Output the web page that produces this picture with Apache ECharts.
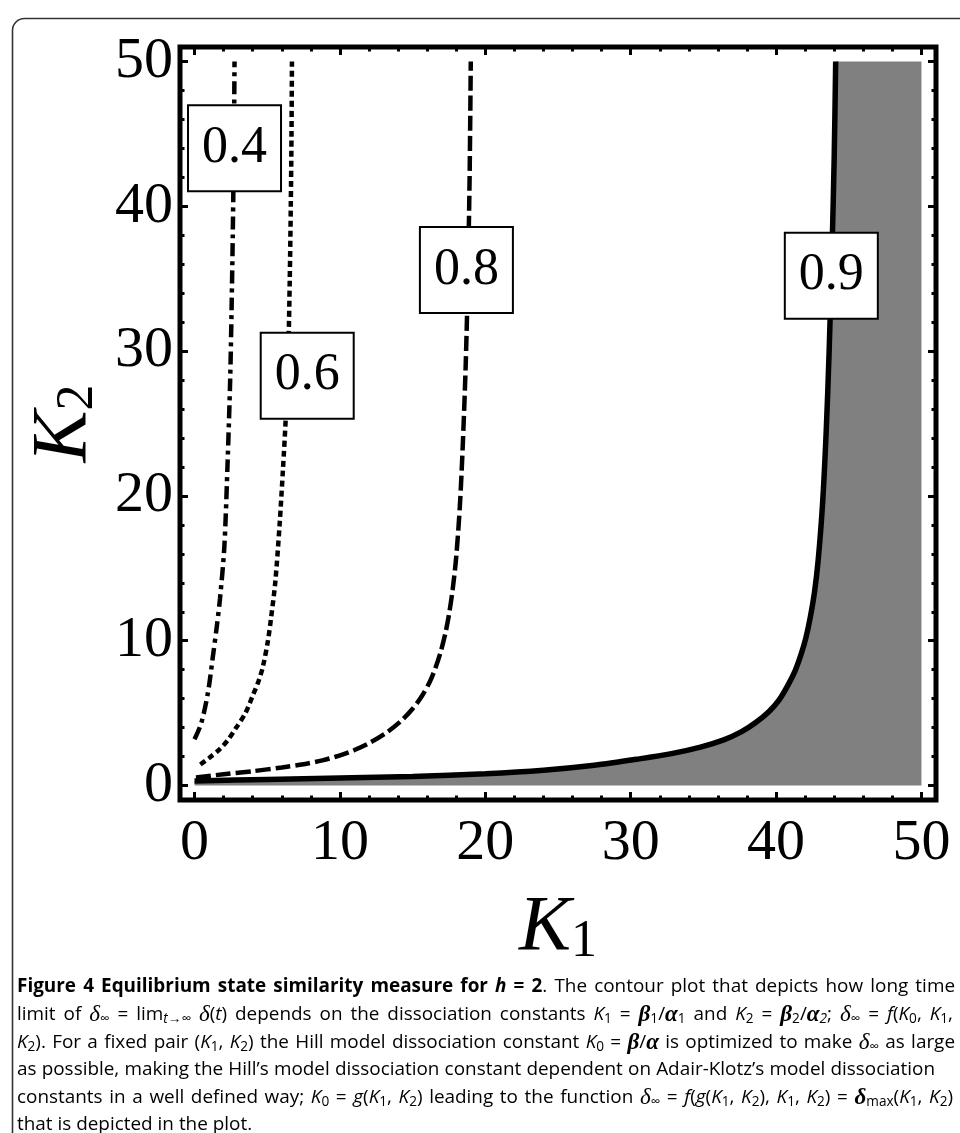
<!DOCTYPE html>
<html lang="en">
<head>
<meta charset="UTF-8">
<title>Figure 4</title>
<script src="https://cdn.jsdelivr.net/npm/echarts@6/dist/echarts.min.js"></script>
<style>body{margin:0;background:#fff}</style>
</head>
<body>
<div id="dom" style="width:960px;height:1133px"></div>
<script>
// ticks (same for K1 and K2)
var majorTicks = [0, 10, 20, 30, 40, 50];
var minorTicks = [2, 4, 6, 8, 12, 14, 16, 18, 22, 24, 26, 28, 32, 34, 36, 38, 42, 44, 46, 48];

// contour lines, [K1, K2]
var curve04 = [[0, 3.2], [0.46, 4.3], [0.92, 6.4], [1.26, 8.9], [1.52, 10.9], [1.75, 12.9], [2.05, 16.5],
    [2.28, 22.5], [2.45, 28], [2.55, 33], [2.63, 38], [2.68, 42], [2.72, 46], [2.75, 50]];
var curve06 = [[0.4, 1.45], [1.0, 1.9], [1.72, 2.5], [2.3, 3.15], [2.87, 4.0], [3.5, 5.0], [4.0, 6.2],
    [4.4, 7.2], [4.7, 8.2], [5.05, 10], [5.28, 11.7], [5.55, 14], [5.85, 18.0], [6.08, 21.8], [6.28, 25.5],
    [6.45, 30], [6.55, 35], [6.62, 40], [6.67, 45], [6.7, 50]];
var curve08 = [[0.1, 0.55], [2, 0.78], [4, 0.99], [6, 1.25], [7.5, 1.47], [8.8, 1.74], [9.8, 2.02],
    [11, 2.45], [12.05, 2.95], [13.2, 3.65], [14.2, 4.45], [15.0, 5.3], [15.65, 6.2], [16.2, 7.2],
    [16.6, 8.2], [16.95, 9.3], [17.25, 10.5], [17.5, 11.8], [17.75, 13.5], [18.0, 15.8], [18.25, 19.3],
    [18.45, 23.5], [18.65, 29], [18.8, 35], [18.92, 42], [19.0, 50]];
var curve09 = [[0, 0.32], [5, 0.42], [10, 0.52], [15, 0.63], [20, 0.82], [24, 1.06], [27.5, 1.4],
    [30.6, 1.84], [32.8, 2.2], [34.8, 2.65], [36.4, 3.15], [37.6, 3.7], [38.6, 4.35], [39.5, 5.1],
    [40.2, 5.9], [40.8, 6.9], [41.3, 7.9], [41.7, 9.0], [42.05, 10.2], [42.35, 11.6], [42.65, 13.4],
    [42.9, 15.6], [43.2, 19.5], [43.45, 24.5], [43.65, 30], [43.85, 37], [44.0, 43.5], [44.1, 50]];
// shaded region is bounded by the 0.9 line, K2 = 50 and K1 = 50
var shadeCorner = [[50, 50]];

var contourLabels = ['0.4', '0.6', '0.8', '0.9'];
var labelAt = [[2.75, 44.0], [7.75, 28.3], [18.7, 35.6], [43.8, 35.2]];

// caption, token lists [style, text]
var captionLines = [
    [['b', 'Figure 4 Equilibrium state similarity measure for '], ['bi', 'h'], ['b', ' = 2'], ['n', '. The contour plot that depicts how long time']],
    [['n', 'limit of '], ['gi', 'δ'], ['sub', '∞'], ['n', ' = lim'], ['subi', 't→∞'], ['n', ' '], ['gi', 'δ'], ['n', '('], ['i', 't'],
        ['n', ') depends on the dissociation constants '], ['i', 'K'], ['sub', '1'], ['n', ' = '], ['gb', 'β'], ['sub', '1'], ['n', '/'],
        ['gb', 'α'], ['sub', '1'], ['n', ' and '], ['i', 'K'], ['sub', '2'], ['n', ' = '], ['gb', 'β'], ['sub', '2'], ['n', '/'], ['gb', 'α'],
        ['subi', '2'], ['n', '; '], ['gi', 'δ'], ['sub', '∞'], ['n', ' = '], ['i', 'f'], ['n', '('], ['i', 'K'], ['sub', '0'], ['n', ', '],
        ['i', 'K'], ['sub', '1'], ['n', ',']],
    [['i', 'K'], ['sub', '2'], ['n', '). For a fixed pair ('], ['i', 'K'], ['sub', '1'], ['n', ', '], ['i', 'K'], ['sub', '2'],
        ['n', ') the Hill model dissociation constant '], ['i', 'K'], ['sub', '0'], ['n', ' = '], ['gb', 'β'], ['n', '/'], ['gb', 'α'],
        ['n', ' is optimized to make '], ['gi', 'δ'], ['sub', '∞'], ['n', ' as large']],
    [['n', 'as possible, making the Hill\u2019s model dissociation constant dependent on Adair-Klotz\u2019s model dissociation']],
    [['n', 'constants in a well defined way; '], ['i', 'K'], ['sub', '0'], ['n', ' = '], ['i', 'g'], ['n', '('], ['i', 'K'], ['sub', '1'],
        ['n', ', '], ['i', 'K'], ['sub', '2'], ['n', ') leading to the function '], ['gi', 'δ'], ['sub', '∞'], ['n', ' = '], ['i', 'f'],
        ['n', '('], ['i', 'g'], ['n', '('], ['i', 'K'], ['sub', '1'], ['n', ', '], ['i', 'K'], ['sub', '2'], ['n', '), '], ['i', 'K'],
        ['sub', '1'], ['n', ', '], ['i', 'K'], ['sub', '2'], ['n', ') = '], ['gb', 'δ'], ['sub', 'max'], ['n', '('], ['i', 'K'], ['sub', '1'],
        ['n', ', '], ['i', 'K'], ['sub', '2'], ['n', ')']],
    [['n', 'that is depicted in the plot.']]
];
// right edge of each justified caption line (null: left as set)
var captionRight = [955, 953, 955, 935, 953, null];

var serif = 'Liberation Serif';
var sans = 'Open Sans';

function xAxisDef(pos, ticks, len, labels, name) {
    return {
        type: 'value', position: pos, min: -1, max: 51,
        axisLine: {show: false, onZero: false},
        splitLine: {show: false},
        axisTick: {show: true, inside: true, length: len, customValues: ticks, lineStyle: {color: '#000', width: 3}},
        axisLabel: {show: labels, customValues: majorTicks, margin: 15, color: '#000', fontFamily: serif, fontSize: 58},
        name: name || '', nameLocation: 'middle', nameGap: 88,
        nameTextStyle: {
            color: '#000',
            rich: {
                k: {fontFamily: serif, fontStyle: 'italic', fontSize: 78, lineHeight: 80, color: '#000'},
                s: {fontFamily: serif, fontSize: 52, lineHeight: 18, verticalAlign: 'bottom', color: '#000'}
            }
        }
    };
}
function yAxisDef(pos, ticks, len, labels, name) {
    var a = xAxisDef(pos, ticks, len, labels, name);
    a.axisLabel.margin = 7;
    a.nameRotate = 90;
    a.nameGap = 76;
    return a;
}

function lineSeries(data, width, dash) {
    return {
        type: 'line', data: data, xAxisIndex: 0, yAxisIndex: 0,
        symbol: 'none', smooth: 0.3, z: 3, silent: true,
        lineStyle: {color: '#000', width: width, type: dash, cap: 'butt'}
    };
}

// caption font size: the plain 4th line sets the scale
var ctx = document.createElement('canvas').getContext('2d');
ctx.font = '20px "' + sans + '"';
var fs = 20 * 916 / ctx.measureText(captionLines[3][0][1]).width;
var richStyles = {
    n: {fontFamily: sans, fontSize: fs, lineHeight: 22, color: '#231f20'},
    b: {fontFamily: sans, fontSize: fs, fontWeight: 'bold', lineHeight: 22, color: '#000'},
    bi: {fontFamily: sans, fontSize: fs, fontWeight: 'bold', fontStyle: 'italic', lineHeight: 22, color: '#000'},
    i: {fontFamily: sans, fontSize: fs, fontStyle: 'italic', lineHeight: 22, color: '#231f20'},
    gi: {fontFamily: serif, fontSize: fs * 1.22, fontStyle: 'italic', lineHeight: 22, color: '#231f20'},
    gb: {fontFamily: serif, fontSize: fs * 1.22, fontStyle: 'italic', fontWeight: 'bold', lineHeight: 22, color: '#231f20'},
    sub: {fontFamily: sans, fontSize: fs * 0.72, lineHeight: 12, verticalAlign: 'bottom', color: '#231f20'},
    subi: {fontFamily: sans, fontSize: fs * 0.72, fontStyle: 'italic', lineHeight: 12, verticalAlign: 'bottom', color: '#231f20'}
};
function fontOf(st) {
    var s = richStyles[st];
    return (s.fontStyle || 'normal') + ' ' + (s.fontWeight || 'normal') + ' ' + s.fontSize + 'px "' + s.fontFamily + '"';
}

// split tokens into words and spaces, widen the spaces to justify the line
function captionText(line, right, idx) {
    var parts = [];
    line.forEach(function (t) {
        var bits = t[1].split(' ');
        bits.forEach(function (w, j) {
            if (w) parts.push([t[0], w]);
            if (j < bits.length - 1) parts.push(['sp', t[0]]);
        });
    });
    var wordW = 0, spW = 0, nsp = 0;
    parts.forEach(function (p) {
        if (p[0] === 'sp') {
            ctx.font = fontOf(p[1]);
            spW += ctx.measureText(' ').width;
            nsp++;
        } else {
            ctx.font = fontOf(p[0]);
            wordW += ctx.measureText(p[1]).width;
        }
    });
    var w = right ? (right - 17 - wordW) / nsp : spW / nsp;
    var key = 'sp' + idx;
    richStyles[key] = {width: w, fontFamily: sans, fontSize: fs, lineHeight: 22};
    return parts.map(function (p) {
        return p[0] === 'sp' ? '{' + key + '| }' : '{' + p[0] + '|' + p[1] + '}';
    }).join('');
}

var captionY = [987, 1015, 1043, 1070, 1098, 1125];
var graphics = [{
    type: 'rect', silent: true, z: -10,
    shape: {x: 12.5, y: 18.5, width: 1100, height: 1300, r: 12},
    style: {fill: 'none', stroke: '#333', lineWidth: 1.6}
}];
var captionTexts = captionLines.map(function (line, i) { return captionText(line, captionRight[i], i); });
captionTexts.forEach(function (txt, i) {
    graphics.push({
        type: 'text', x: 17, y: captionY[i], silent: true,
        style: {text: txt, rich: richStyles, verticalAlign: 'middle', align: 'left'}
    });
});

var dom = document.getElementById('dom');
var myChart = echarts.init(dom);
var option = {
    backgroundColor: '#fff',
    animation: false,
    grid: {left: 180, top: 47, width: 756, height: 753, show: true, borderColor: '#000', borderWidth: 5, backgroundColor: 'transparent'},
    xAxis: [
        xAxisDef('bottom', majorTicks, 8, true, '{k|K}{s|1}'),
        xAxisDef('bottom', minorTicks, 4.5, false),
        xAxisDef('top', majorTicks, 8, false),
        xAxisDef('top', minorTicks, 4.5, false)
    ],
    yAxis: [
        yAxisDef('left', majorTicks, 8, true, '{k|K}{s|2}'),
        yAxisDef('left', minorTicks, 4.5, false),
        yAxisDef('right', majorTicks, 8, false),
        yAxisDef('right', minorTicks, 4.5, false)
    ],
    series: [
        {
            type: 'line', data: curve09.concat(shadeCorner), xAxisIndex: 0, yAxisIndex: 0,
            symbol: 'none', smooth: 0.3, z: 1, silent: true,
            lineStyle: {width: 0, opacity: 0},
            areaStyle: {color: '#808080', opacity: 1}
        },
        lineSeries(curve04, 4.5, [13, 5, 4, 5]),
        lineSeries(curve06, 4.5, [6, 4]),
        lineSeries(curve08, 4.5, [15, 5]),
        lineSeries(curve09, 5.5, 'solid'),
        {
            type: 'custom', xAxisIndex: 0, yAxisIndex: 0, z: 10, silent: true,
            data: labelAt,
            renderItem: function (params, api) {
                var pt = api.coord([api.value(0), api.value(1)]);
                return {
                    type: 'text', x: pt[0], y: pt[1], z2: 100,
                    style: {
                        text: contourLabels[params.dataIndex],
                        fontFamily: serif, fontSize: 52, lineHeight: 56, fill: '#000',
                        align: 'center', verticalAlign: 'middle',
                        backgroundColor: '#fff', borderColor: '#000', borderWidth: 2,
                        padding: [14, 13, 14, 13]
                    }
                };
            }
        }
    ],
    graphic: graphics
};
myChart.setOption(option);
</script>
</body>
</html>
